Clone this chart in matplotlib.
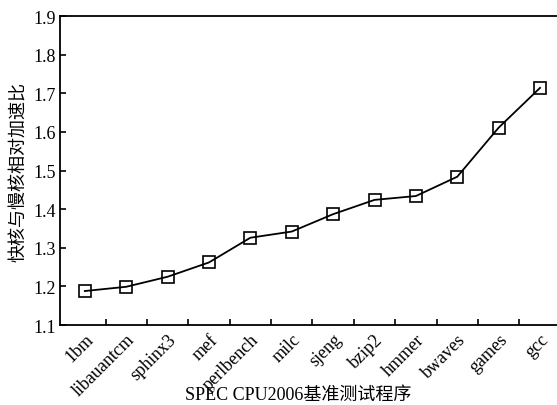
import matplotlib
matplotlib.use("Agg")
import matplotlib.pyplot as plt
import numpy as np

plt.rcParams["font.family"] = ["Liberation Serif", "Noto Sans CJK SC"]

benchmarks = ["1bm", "libauantcm", "sphinx3", "mef", "perlbench", "milc",
              "sjeng", "bzip2", "hmmer", "bwaves", "games", "gcc"]
speedup = [1.188, 1.199, 1.225, 1.262, 1.326, 1.342,
           1.387, 1.424, 1.434, 1.484, 1.611, 1.714]

fig = plt.figure(figsize=(5.57, 4.06), dpi=100)
ax = fig.add_axes([0.1077, 0.197, 0.8923, 0.761])

x = np.arange(len(benchmarks))
ax.plot(x, speedup, color="black", linewidth=1.3, marker="s", markersize=8,
        markerfacecolor="none", markeredgecolor="black", markeredgewidth=1.2)

ax.set_xlim(-0.6, 11.41)
ax.set_ylim(1.1, 1.9)
ax.set_yticks(np.arange(1.1, 1.91, 0.1))
ax.set_yticklabels([f"{v:.1f}" for v in np.arange(1.1, 1.91, 0.1)], fontsize=13)

ax.set_xticks(x)
ax.set_xticklabels(benchmarks, rotation=45, ha="right", rotation_mode="anchor",
                   fontsize=13)
ax.set_xticks(x[:-1] + 0.5, minor=True)
ax.tick_params(axis="x", which="major", length=0, pad=4)
ax.tick_params(axis="x", which="minor", direction="in", length=4, width=1.2)
ax.tick_params(axis="y", direction="in", length=4, width=1.2, pad=3)

for side in ["left", "bottom", "top"]:
    ax.spines[side].set_linewidth(1.3)
ax.spines["right"].set_visible(False)

ax.set_xlabel("SPEC CPU2006基准测试程序", fontsize=13)
ax.xaxis.set_label_coords(0.479, -0.198)
ax.set_ylabel("快核与慢核相对加速比", fontsize=13, labelpad=4)

plt.savefig("out.png", dpi=100)
